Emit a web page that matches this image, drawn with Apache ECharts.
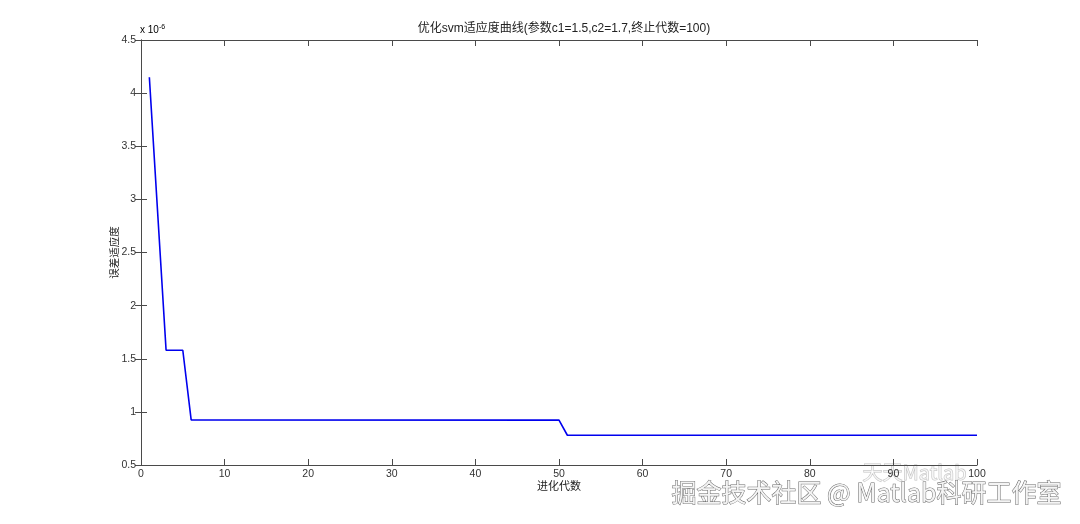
<!DOCTYPE html>
<html>
<head>
<meta charset="utf-8">
<script src="https://cdn.jsdelivr.net/npm/echarts@6/dist/echarts.min.js"></script>
<style>
  html, body { margin: 0; padding: 0; background: #fff; }
  #chart { width: 1080px; height: 524px; }
</style>
</head>
<body>
<div id="chart"></div>
<script>
  // generation (x) and fitness error (y, in units of 1e-6) at the curve's break points
  var generations = [1, 3, 5, 6, 50, 51, 100];
  var fitness = [4.15, 1.58, 1.58, 0.925, 0.922, 0.78, 0.78];

  var titleText = '优化svm适应度曲线(参数c1=1.5,c2=1.7,终止代数=100)';
  var xName = '进化代数';
  var yName = '误差适应度';

  var points = generations.map(function (g, i) { return [g, fitness[i]]; });

  var chart = echarts.init(document.getElementById('chart'));
  var axisLine = { show: true, lineStyle: { color: '#4a4a4a', width: 1 } };
  var tick = { show: true, inside: true, length: 6, lineStyle: { color: '#4a4a4a' } };
  var label = { color: '#333', fontSize: 10.5, fontFamily: 'Arial, "Liberation Sans", sans-serif' };

  var option = {
    backgroundColor: '#ffffff',
    animation: false,
    title: {
      text: titleText,
      left: 559,
      textAlign: 'center',
      top: 18,
      textStyle: { fontSize: 12, fontWeight: 'normal', color: '#222', fontFamily: 'Arial, "Noto Sans CJK SC", sans-serif' }
    },
    grid: { left: 141, right: 103, top: 40, bottom: 59 },
    xAxis: [
      {
        type: 'value', min: 0, max: 100, interval: 10,
        name: xName, nameLocation: 'middle', nameGap: 15, nameMoveOverlap: false,
        nameTextStyle: { fontSize: 11, color: '#222', fontFamily: '"Noto Sans CJK SC", sans-serif' },
        axisLine: axisLine, axisTick: tick, splitLine: { show: false },
        axisLabel: Object.assign({ margin: 4 }, label)
      },
      {
        type: 'value', position: 'top', min: 0, max: 100, interval: 10,
        axisLine: axisLine, axisTick: tick, splitLine: { show: false },
        axisLabel: { show: false }
      }
    ],
    yAxis: [
      {
        type: 'value', min: 0.5, max: 4.5, interval: 0.5,
        name: yName, nameLocation: 'middle', nameGap: 22, nameMoveOverlap: false,
        nameTextStyle: { fontSize: 10.5, color: '#222', fontFamily: '"Noto Sans CJK SC", sans-serif' },
        axisLine: axisLine, axisTick: tick, splitLine: { show: false },
        axisLabel: Object.assign({ margin: 5 }, label)
      },
      {
        type: 'value', position: 'right', min: 0.5, max: 4.5, interval: 0.5,
        axisLine: axisLine, axisTick: tick, splitLine: { show: false },
        axisLabel: { show: false }
      }
    ],
    series: [
      {
        type: 'line',
        data: points,
        symbol: 'none',
        lineStyle: { color: '#0000ee', width: 1.6 }
      }
    ],
    graphic: [
      {
        type: 'text', left: 140, top: 24,
        style: {
          text: '{a|x 10}{b|-6}',
          rich: {
            a: { fontSize: 10, color: '#333', fontFamily: 'Arial, sans-serif' },
            b: { fontSize: 7, color: '#333', verticalAlign: 'top', padding: [0, 0, 6, 0] }
          }
        }
      },
      {
        type: 'text', left: 862, top: 462,
        style: {
          text: '天天Matlab', fontSize: 20, fill: 'rgba(255,255,255,0.6)',
          stroke: 'rgba(120,120,120,0.45)', lineWidth: 1,
          fontFamily: '"Noto Sans CJK SC", sans-serif'
        }
      },
      {
        type: 'text', left: 671, top: 479,
        style: {
          text: '掘金技术社区 @ Matlab科研工作室', fontSize: 25, fill: '#f4f4f4',
          stroke: '#6a6a6a', lineWidth: 1,
          fontFamily: '"Noto Sans CJK SC", sans-serif'
        }
      }
    ]
  };

  chart.setOption(option);
</script>
</body>
</html>
